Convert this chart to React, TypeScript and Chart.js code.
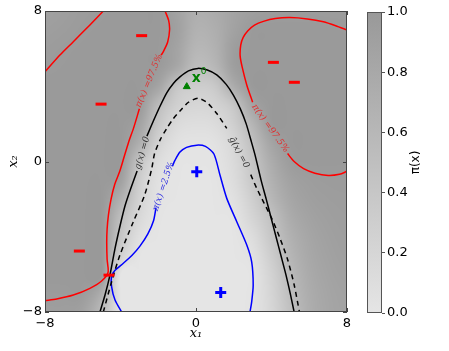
import React, { useEffect, useRef } from 'react';
import { Chart, registerables } from 'chart.js';
Chart.register(...registerables);

// ---------- data ----------
const X_TICKS = [-8, 0, 8];
const Y_TICKS = [-8, 0, 8];
const CB_TICKS = [0, 0.2, 0.4, 0.6, 0.8, 1.0];

// grid of pi(x), columns x=-8..8, rows y=8..-8
const GRID_X = [-8, -7, -6, -5, -4, -3, -2, -1, 0, 1, 2, 3, 4, 5, 6, 7, 8];
const GRID_Y = [8, 7, 6, 5, 4, 3, 2, 1, 0, -1, -2, -3, -4, -5, -6, -7, -8];
const PI_GRID: number[][] = [
  [0.90, 0.93, 0.96, 0.975, 0.99, 0.99, 0.985, 0.88, 0.72, 0.76, 0.86, 0.93, 0.96, 0.965, 0.965, 0.96, 0.96],
  [0.93, 0.95, 0.973, 0.985, 0.99, 0.99, 0.985, 0.90, 0.68, 0.72, 0.88, 0.98, 0.99, 0.99, 0.99, 0.985, 0.977],
  [0.955, 0.972, 0.985, 0.99, 0.99, 0.99, 0.98, 0.86, 0.62, 0.68, 0.93, 0.985, 0.99, 0.99, 0.99, 0.99, 0.99],
  [0.972, 0.982, 0.99, 0.99, 0.99, 0.988, 0.97, 0.80, 0.52, 0.60, 0.92, 0.985, 0.99, 0.99, 0.99, 0.99, 0.99],
  [0.99, 0.99, 0.99, 0.99, 0.99, 0.985, 0.85, 0.42, 0.32, 0.38, 0.75, 0.982, 0.99, 0.99, 0.99, 0.99, 0.99],
  [0.99, 0.99, 0.99, 0.99, 0.99, 0.978, 0.55, 0.28, 0.20, 0.24, 0.42, 0.85, 0.99, 0.99, 0.99, 0.99, 0.99],
  [0.99, 0.99, 0.99, 0.99, 0.99, 0.87, 0.40, 0.15, 0.10, 0.13, 0.30, 0.64, 0.978, 0.99, 0.99, 0.99, 0.99],
  [0.99, 0.99, 0.99, 0.99, 0.99, 0.72, 0.25, 0.06, 0.03, 0.05, 0.20, 0.50, 0.85, 0.985, 0.99, 0.99, 0.99],
  [0.99, 0.99, 0.99, 0.99, 0.985, 0.45, 0.12, 0.02, 0.01, 0.025, 0.15, 0.42, 0.75, 0.95, 0.985, 0.985, 0.982],
  [0.99, 0.99, 0.99, 0.99, 0.90, 0.32, 0.06, 0.01, 0.005, 0.015, 0.12, 0.38, 0.68, 0.88, 0.94, 0.96, 0.965],
  [0.99, 0.99, 0.99, 0.99, 0.70, 0.25, 0.04, 0.005, 0.0, 0.01, 0.07, 0.30, 0.60, 0.82, 0.91, 0.94, 0.95],
  [0.99, 0.99, 0.99, 0.988, 0.52, 0.17, 0.02, 0.0, 0.0, 0.005, 0.025, 0.22, 0.47, 0.75, 0.87, 0.92, 0.94],
  [0.99, 0.99, 0.99, 0.985, 0.42, 0.08, 0.005, 0.0, 0.0, 0.0, 0.01, 0.12, 0.40, 0.68, 0.83, 0.90, 0.93],
  [0.99, 0.99, 0.99, 0.985, 0.28, 0.015, 0.0, 0.0, 0.0, 0.0, 0.005, 0.06, 0.32, 0.62, 0.80, 0.88, 0.92],
  [0.99, 0.99, 0.99, 0.985, 0.02, 0.005, 0.0, 0.0, 0.0, 0.0, 0.0, 0.025, 0.25, 0.56, 0.77, 0.86, 0.90],
  [0.965, 0.968, 0.96, 0.72, 0.015, 0.005, 0.0, 0.0, 0.0, 0.0, 0.0, 0.03, 0.22, 0.52, 0.74, 0.84, 0.88],
  [0.93, 0.93, 0.88, 0.55, 0.03, 0.005, 0.0, 0.0, 0.0, 0.0, 0.0, 0.03, 0.20, 0.48, 0.72, 0.83, 0.87],
];

// contour polylines [x1, x2]
const RED_UL = [[-8, 4.77], [-7.21, 5.66], [-6.5, 6.37], [-5.62, 7.26], [-4.91, 8]];
const RED_L_TOP = [[-1.64, 8], [-1.45, 7.5], [-1.4, 7.0], [-1.5, 6.35], [-1.73, 5.84], [-1.85, 5.65]];
const RED_L_BOTTOM = [[-3.0, 2.8], [-3.3, 1.8], [-3.58, 1.0], [-3.83, 0.17], [-4.05, -0.55], [-4.3, -1.2], [-4.5, -2.0], [-4.64, -2.85], [-4.71, -3.6], [-4.73, -4.3], [-4.71, -5.2], [-4.66, -5.9], [-5.0, -6.35], [-5.62, -6.74], [-6.5, -7.1], [-7.38, -7.31], [-8, -7.4]];
const RED_R_TOP = [[3.0, 3.15], [2.69, 4.07], [2.45, 5.0], [2.34, 5.6], [2.37, 6.19], [2.5, 6.6], [2.75, 6.95], [3.1, 7.25], [3.57, 7.45], [4.2, 7.6], [4.98, 7.65], [5.9, 7.58], [6.75, 7.43], [7.4, 7.22], [8, 6.99]];
const RED_R_BOTTOM = [[4.85, 0.42], [5.2, 0.0], [5.7, -0.38], [6.3, -0.62], [7.0, -0.74], [7.6, -0.68], [8, -0.52]];
const G_MAIN = [[-2.6, 1.35], [-2.26, 2.15], [-1.9, 2.95], [-1.55, 3.65], [-1.2, 4.15], [-0.85, 4.5], [-0.4, 4.82], [0.1, 4.95], [0.6, 4.86], [1.1, 4.6], [1.6, 4.1], [1.98, 3.53], [2.35, 2.8], [2.66, 2.0], [2.92, 1.1], [3.13, 0.34], [3.45, -1.0], [3.72, -2.0], [3.98, -3.0], [4.24, -4.0], [4.5, -5.0], [4.76, -6.0], [4.99, -7.0], [5.2, -8.0]];
const G_LOW = [[-3.12, -0.5], [-3.48, -1.5], [-3.76, -2.35], [-4.02, -3.4], [-4.29, -4.62], [-4.56, -6.04], [-4.82, -7.1], [-5.09, -8.0]];
const GHAT_MAIN = [[-4.91, -8.0], [-4.47, -6.39], [-4.03, -4.97], [-3.32, -3.2], [-2.72, -1.78], [-2.35, -0.4], [-2.2, 0.4], [-1.9, 1.15], [-1.55, 1.76], [-1.2, 2.28], [-0.85, 2.68], [-0.4, 3.15], [0.12, 3.36], [0.6, 3.12], [1.1, 2.55], [1.63, 1.76]];
const GHAT_RIGHT = [[2.9, -0.7], [3.22, -1.43], [3.6, -2.2], [4.01, -3.02], [4.45, -4.08], [4.85, -5.2], [5.2, -6.55], [5.48, -8.0]];
const BLUE_MAIN = [[2.86, -8.0], [2.95, -7.46], [3.03, -6.57], [2.95, -5.33], [2.69, -4.44], [2.16, -3.2], [1.63, -1.96], [1.27, -0.72], [0.95, 0.4], [0.5, 0.8], [0.04, 0.87], [-0.5, 0.75], [-0.85, 0.5], [-1.11, 0.07], [-1.25, -0.25]];
const BLUE_LOW = [[-2.12, -2.45], [-2.25, -3.15], [-2.55, -3.85], [-2.97, -4.5], [-3.4, -5.0], [-3.85, -5.41], [-4.3, -5.8], [-4.47, -6.1], [-4.47, -6.66], [-4.29, -7.36], [-3.94, -8.0]];

// samples
const FAIL_PTS = [[-2.88, 6.69], [-5.03, 3.05], [4.1, 5.27], [5.21, 4.21], [-6.18, -4.76], [-4.61, -6.04]];
const SAFE_PTS = [[0.04, -0.54], [1.31, -6.96]];
const X0_PT = [[-0.49, 3.98]];

const CONTOUR_LABELS = [
  { text: 'π(x) =97.5%', x: -2.48, y: 4.29, angle: -67.2, color: '#e03030' },
  { text: 'π(x) =97.5%', x: 3.93, y: 1.76, angle: 54.4, color: '#e03030' },
  { text: 'g(x) =0', x: -2.84, y: 0.45, angle: -73.5, color: '#333333' },
  { text: 'ĝ(x) =0', x: 2.28, y: 0.48, angle: 61.9, color: '#333333' },
  { text: 'π(x) =2.5%', x: -1.72, y: -1.33, angle: -71.5, color: '#3030e0' },
];

// ---------- helpers ----------
const LIGHT = 229;
const DARK = 153;
const clamp01 = (v: number) => Math.max(0, Math.min(1, v));
const grayOf = (v: number) => Math.round(LIGHT - clamp01(v) * (LIGHT - DARK));

function cubic(p0: number, p1: number, p2: number, p3: number, t: number) {
  return p1 + 0.5 * t * (p2 - p0 + t * (2 * p0 - 5 * p1 + 4 * p2 - p3 + t * (3 * (p1 - p2) + p3 - p0)));
}
function cell(i: number, j: number) {
  const nx = GRID_X.length - 1, ny = GRID_Y.length - 1;
  return PI_GRID[Math.max(0, Math.min(ny, j))][Math.max(0, Math.min(nx, i))];
}
function piAt(xv: number, yv: number) {
  const nx = GRID_X.length - 1, ny = GRID_Y.length - 1;
  let gx = (xv - GRID_X[0]) / (GRID_X[1] - GRID_X[0]);
  let gy = (yv - GRID_Y[0]) / (GRID_Y[1] - GRID_Y[0]);
  gx = Math.max(0, Math.min(nx, gx));
  gy = Math.max(0, Math.min(ny, gy));
  const i = Math.min(nx - 1, Math.floor(gx)), j = Math.min(ny - 1, Math.floor(gy));
  const fx = gx - i, fy = gy - j;
  const rows: number[] = [];
  for (let r = -1; r <= 2; r++) {
    rows.push(cubic(cell(i - 1, j + r), cell(i, j + r), cell(i + 1, j + r), cell(i + 2, j + r), fx));
  }
  return clamp01(cubic(rows[0], rows[1], rows[2], rows[3], fy));
}

const pts = (arr: number[][]) => arr.map(([x, y]) => ({ x, y }));
const fmt = (v: any) => (v < 0 ? '\u2212' + Math.abs(v) : String(v));

const heatmapPlugin = {
  id: 'heatmap',
  beforeDatasetsDraw(chart: any) {
    const { ctx, chartArea: a, scales } = chart;
    const x = scales.x, y = scales.y;
    const L = Math.round(a.left), T = Math.round(a.top);
    const w = Math.round(a.right) - L, h = Math.round(a.bottom) - T;
    const img = ctx.createImageData(w, h);
    for (let j = 0; j < h; j++) {
      const yv = y.getValueForPixel(T + j + 0.5);
      for (let i = 0; i < w; i++) {
        const xv = x.getValueForPixel(L + i + 0.5);
        const g = grayOf(piAt(xv, yv));
        const k = (j * w + i) * 4;
        img.data[k] = g; img.data[k + 1] = g; img.data[k + 2] = g; img.data[k + 3] = 255;
      }
    }
    ctx.putImageData(img, L, T);
  },
  afterDatasetsDraw(chart: any) {
    const { ctx, chartArea: a, scales } = chart;
    const x = scales.x, y = scales.y;
    ctx.save();
    ctx.font = 'italic 9px "DejaVu Serif"';
    ctx.textAlign = 'center';
    ctx.textBaseline = 'middle';
    for (const l of CONTOUR_LABELS) {
      ctx.save();
      ctx.translate(x.getPixelForValue(l.x), y.getPixelForValue(l.y));
      ctx.rotate((l.angle * Math.PI) / 180);
      ctx.fillStyle = l.color;
      ctx.fillText(l.text, 0, 0);
      ctx.restore();
    }
    const px = x.getPixelForValue(X0_PT[0][0]);
    const py = y.getPixelForValue(X0_PT[0][1]);
    ctx.fillStyle = '#008000';
    ctx.textAlign = 'left';
    ctx.font = 'bold 14px "DejaVu Sans"';
    ctx.fillText('x', px + 5, py - 8);
    ctx.font = '9px "DejaVu Sans"';
    ctx.fillText('0', px + 14, py - 15);
    ctx.restore();
    ctx.save();
    ctx.strokeStyle = '#444';
    ctx.lineWidth = 1;
    ctx.strokeRect(Math.round(a.left) + 0.5, Math.round(a.top) + 0.5, Math.round(a.right - a.left) - 1, Math.round(a.bottom - a.top) - 1);
    ctx.beginPath();
    for (const v of X_TICKS) {
      const p = Math.round(x.getPixelForValue(v)) + 0.5;
      ctx.moveTo(p, a.bottom); ctx.lineTo(p, a.bottom - 4);
      ctx.moveTo(p, a.top); ctx.lineTo(p, a.top + 4);
    }
    for (const v of Y_TICKS) {
      const p = Math.round(y.getPixelForValue(v)) + 0.5;
      ctx.moveTo(a.left, p); ctx.lineTo(a.left + 4, p);
      ctx.moveTo(a.right, p); ctx.lineTo(a.right - 4, p);
    }
    ctx.stroke();
    ctx.restore();
  },
};

const colorbarPlugin = {
  id: 'colorbar',
  beforeDatasetsDraw(chart: any) {
    const { ctx, chartArea: a, scales } = chart;
    const y = scales.y;
    const g = ctx.createLinearGradient(0, y.getPixelForValue(0), 0, y.getPixelForValue(1));
    g.addColorStop(0, `rgb(${grayOf(0)},${grayOf(0)},${grayOf(0)})`);
    g.addColorStop(1, `rgb(${grayOf(1)},${grayOf(1)},${grayOf(1)})`);
    ctx.save();
    ctx.fillStyle = g;
    ctx.fillRect(a.left, a.top, a.right - a.left, a.bottom - a.top);
    ctx.strokeStyle = '#555';
    ctx.lineWidth = 1;
    ctx.strokeRect(Math.round(a.left) + 0.5, Math.round(a.top) + 0.5, Math.round(a.right - a.left) - 1, Math.round(a.bottom - a.top) - 1);
    ctx.restore();
  },
  afterDraw(chart: any) {
    const { ctx, chartArea: a } = chart;
    ctx.save();
    ctx.translate(56, (a.top + a.bottom) / 2);
    ctx.rotate(-Math.PI / 2);
    ctx.font = '12px "DejaVu Sans"';
    ctx.fillStyle = '#000';
    ctx.textAlign = 'center';
    ctx.textBaseline = 'middle';
    ctx.fillText('π(x)', 0, 0);
    ctx.restore();
  },
};

const lineDs = (arr: number[][], color: string, dash: number[] = []) => ({
  type: 'scatter' as const,
  data: pts(arr),
  showLine: true,
  borderColor: color,
  borderWidth: 1.5,
  borderDash: dash,
  pointRadius: 0,
  fill: false,
  tension: 0.25,
  order: 2,
});

export default function App() {
  const mainRef = useRef<HTMLCanvasElement>(null);
  const cbRef = useRef<HTMLCanvasElement>(null);

  useEffect(() => {
    const font = { family: '"DejaVu Sans"', size: 13 };
    const main = new Chart(mainRef.current!, {
      type: 'scatter',
      data: {
        datasets: [
          { data: pts(FAIL_PTS), pointStyle: 'line', pointRadius: 5.5, borderColor: '#ff0000', borderWidth: 3, backgroundColor: '#ff0000', order: 0 } as any,
          { data: pts(SAFE_PTS), pointStyle: 'cross', pointRadius: 5.5, borderColor: '#0000ff', borderWidth: 3, backgroundColor: '#0000ff', order: 0 } as any,
          { data: pts(X0_PT), pointStyle: 'triangle', pointRadius: 4, borderColor: '#008000', borderWidth: 1, backgroundColor: '#008000', order: 0 } as any,
          lineDs(RED_UL, '#ff0000'),
          lineDs(RED_L_TOP, '#ff0000'),
          lineDs(RED_L_BOTTOM, '#ff0000'),
          lineDs(RED_R_TOP, '#ff0000'),
          lineDs(RED_R_BOTTOM, '#ff0000'),
          lineDs(G_MAIN, '#000000'),
          lineDs(G_LOW, '#000000'),
          lineDs(GHAT_MAIN, '#000000', [5, 4]),
          lineDs(GHAT_RIGHT, '#000000', [5, 4]),
          lineDs(BLUE_MAIN, '#0000ff'),
          lineDs(BLUE_LOW, '#0000ff'),
        ],
      },
      options: {
        animation: false,
        responsive: false,
        devicePixelRatio: 1,
        layout: { padding: { left: 0, top: 11, right: 13, bottom: 0 } },
        plugins: { legend: { display: false }, tooltip: { enabled: false } },
        scales: {
          x: {
            type: 'linear', min: -8, max: 8,
            afterBuildTicks: (s: any) => { s.ticks = X_TICKS.map((v) => ({ value: v })); },
            afterFit: (s: any) => { s.height = 39; },
            grid: { display: false, drawTicks: false },
            border: { display: false },
            ticks: { padding: 4, color: '#000', font, callback: fmt, maxRotation: 0, autoSkip: false },
            title: { display: true, text: 'x₁', color: '#000', font: { family: '"DejaVu Serif"', style: 'italic', size: 13 }, padding: { top: 0, bottom: 10 } },
          },
          y: {
            type: 'linear', min: -8, max: 8,
            afterBuildTicks: (s: any) => { s.ticks = Y_TICKS.map((v) => ({ value: v })); },
            afterFit: (s: any) => { s.width = 45; },
            grid: { display: false, drawTicks: false },
            border: { display: false },
            ticks: { padding: 3, color: '#000', font, callback: fmt, autoSkip: false },
            title: { display: true, text: 'x₂', color: '#000', font: { family: '"DejaVu Serif"', style: 'italic', size: 13 }, padding: { top: 6, bottom: 0 } },
          },
        },
      } as any,
      plugins: [heatmapPlugin],
    });

    const cb = new Chart(cbRef.current!, {
      type: 'scatter',
      data: { datasets: [] },
      options: {
        animation: false,
        responsive: false,
        devicePixelRatio: 1,
        layout: { padding: { left: 7, top: 12, right: 0, bottom: 38 } },
        plugins: { legend: { display: false }, tooltip: { enabled: false } },
        scales: {
          x: { display: false, min: 0, max: 1 },
          y: {
            position: 'right', min: 0, max: 1,
            afterBuildTicks: (s: any) => { s.ticks = CB_TICKS.map((v) => ({ value: v })); },
            afterFit: (s: any) => { s.width = 67; },
            grid: { display: true, drawOnChartArea: false, drawTicks: true, tickLength: 3, color: '#555' },
            border: { display: false },
            ticks: { padding: 2, color: '#000', font, callback: (v: any) => Number(v).toFixed(1) },
          },
        },
      } as any,
      plugins: [colorbarPlugin],
    });

    return () => { main.destroy(); cb.destroy(); };
  }, []);

  return (
    <div style={{ position: 'fixed', left: 0, top: 0, width: 449, height: 351, background: '#fff' }}>
      <canvas ref={mainRef} width={360} height={351} style={{ position: 'absolute', left: 0, top: 0, width: 360, height: 351 }} />
      <canvas ref={cbRef} width={89} height={351} style={{ position: 'absolute', left: 360, top: 0, width: 89, height: 351 }} />
    </div>
  );
}
